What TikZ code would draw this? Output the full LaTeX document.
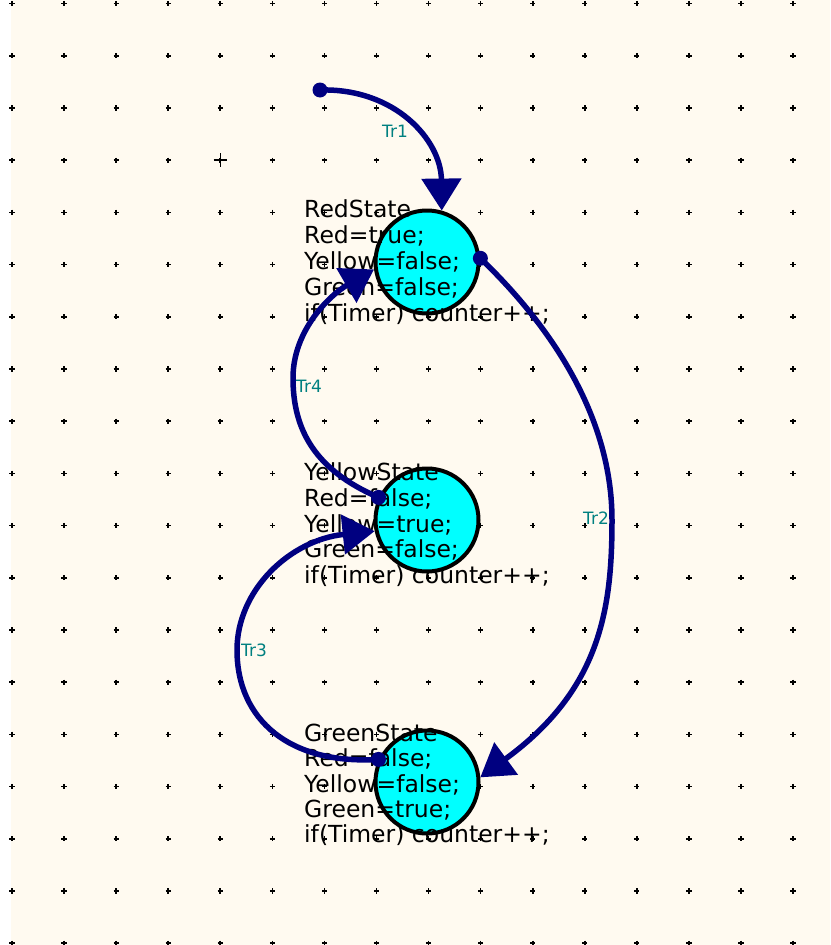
\documentclass[tikz,border=0pt]{standalone}
\usepackage{fontspec}
\setmainfont{DejaVu Sans}
\usetikzlibrary{arrows.meta}
\definecolor{cream}{RGB}{255,250,240}
\definecolor{navyline}{RGB}{0,0,128}
\definecolor{tealtxt}{RGB}{0,128,128}
\definecolor{statecyan}{RGB}{0,255,255}
\begin{document}
\begin{tikzpicture}[x=1pt,y=-1pt,
  statecirc/.style={circle,draw=black,line width=4pt,fill=statecyan,minimum size=103pt,inner sep=0pt},
  codeline/.style={anchor=base west,inner sep=0pt,font=\fontsize{23.5}{26}\selectfont,text=black},
  trlabel/.style={font=\fontsize{17}{18}\selectfont,text=tealtxt,inner sep=0pt},
  trans/.style={draw=navyline,line width=5.5pt,-{Triangle[length=32pt,width=39pt]}},
  startdot/.style={fill=navyline}]
\fill[white] (0,0) rectangle (830,945);
\fill[cream] (11,0) rectangle (830,945);
\useasboundingbox (0,0) rectangle (830,945);
% grid
\foreach \i in {0,...,15} \foreach \j in {0,...,18} {
  \draw[line width=1.6pt] ({12+52.07*\i-2.6},{3.5+52.2*\j}) -- ++(5.2,0)
                          ({12+52.07*\i},{3.5+52.2*\j-2.6}) -- ++(0,5.2);
}
\draw[line width=1.3pt] (213.5,160.1) -- (227.1,160.1) (220.3,153.3) -- (220.3,166.9);
% states
\node[statecirc] (red) at (427,262) {};
\node[statecirc] (yellow) at (427,520) {};
\node[statecirc] (green) at (427,782) {};
% texts
\node[codeline] (r1) at (304,217) {RedState};
\node[codeline] (r2) at (304,243) {Red=true;};
\node[codeline] (r3) at (304,269) {Yellow=false;};
\node[codeline] (r4) at (304,295) {Green=false;};
\node[codeline] (r5) at (304,321) {if(Timer) counter++;};
\node[codeline] (y1) at (304,480) {YellowState};
\node[codeline] (y2) at (304,506) {Red=false;};
\node[codeline] (y3) at (304,532) {Yellow=true;};
\node[codeline] (y4) at (304,557) {Green=false;};
\node[codeline] (y5) at (304,583) {if(Timer) counter++;};
\node[codeline] (g1) at (304,741) {GreenState};
\node[codeline] (g2) at (304,766.5) {Red=false;};
\node[codeline] (g3) at (304,792) {Yellow=false;};
\node[codeline] (g4) at (304,817) {Green=true;};
\node[codeline] (g5) at (304,842) {if(Timer) counter++;};
% transitions
\coordinate (s1) at (320,90);
\fill[startdot] (s1) circle (7.5pt);
\draw[trans] (s1) .. controls (395,88) and (441,140) .. (red.74);
\fill[startdot] (red.4) circle (7.5pt);
\draw[trans] (red.4) .. controls (555,330) and (612,420) .. (612,520)
   .. controls (612,610) and (600,690) .. (green.5);
\fill[startdot] (yellow.155) circle (7.5pt);
\draw[trans] (yellow.155) .. controls (315,470) and (293,430) .. (293,378)
   .. controls (293,330) and (330,295) .. (red.188);
\fill[startdot] (green.155) circle (7.5pt);
\draw[trans] (green.155) .. controls (290,765) and (237,720) .. (237,650)
   .. controls (237,590) and (290,540) .. (yellow.192);
% labels
\node[trlabel] (l1) at (395,131) {Tr1};
\node[trlabel] (l2) at (596,518) {Tr2};
\node[trlabel] (l3) at (254,650) {Tr3};
\node[trlabel] (l4) at (309,386) {Tr4};
\end{tikzpicture}
\end{document}
